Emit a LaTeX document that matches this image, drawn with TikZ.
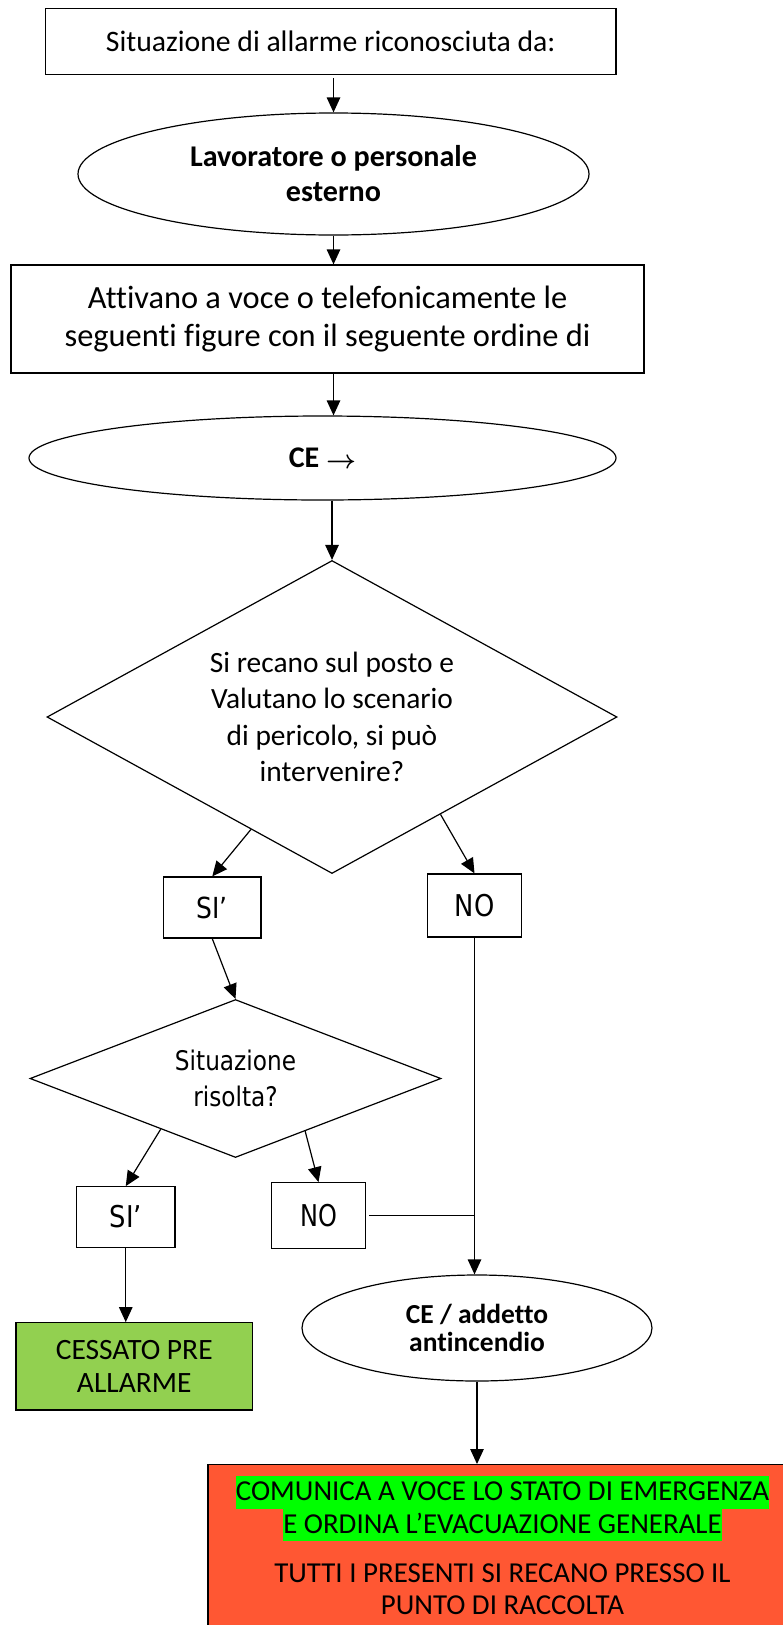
\documentclass[tikz,border=0pt]{standalone}
\usepackage{graphicx}
\usepackage{fontspec}
\setmainfont[Ligatures=NoCommon]{Carlito}
\newfontfamily\dvfont[FakeStretch=0.86]{DejaVu Sans}
\newfontfamily\dvfontn[FakeStretch=0.8]{DejaVu Sans}
\usetikzlibrary{shapes.geometric,arrows.meta,calc}
\definecolor{redfill}{HTML}{FF5733}
\definecolor{greenfill}{HTML}{92D050}
\definecolor{hlgreen}{HTML}{00FF00}
\newcommand{\hlbox}[1]{{\setlength{\fboxsep}{0pt}\colorbox{hlgreen}{\rule[-8pt]{0pt}{32.4pt}#1}}}
\begin{document}
\begin{tikzpicture}[x=1pt,y=-1pt,
  box/.style={draw, line width=1.2pt, rectangle, inner sep=0pt, align=center},
  ell/.style={draw, line width=1.2pt, ellipse, inner sep=0pt, align=center},
  dia/.style={draw, line width=1.2pt, diamond, inner sep=0pt, align=center},
  arr/.style={-{Triangle[length=15pt,width=13.5pt]}, line width=1.2pt},
  ln/.style={line width=1.2pt}]
\useasboundingbox[fill=white] (0,0) rectangle (782,1625);

\node[box, minimum width=570.5pt, minimum height=66pt,
  font=\fontsize{29.7}{36}\selectfont] (top) at (330.75,41.5)
  {Situazione di allarme riconosciuta da:};
\node[ell, minimum width=511pt, minimum height=122pt,
  font=\bfseries\fontsize{30.1}{35}\selectfont] (e1) at (333.5,174)
  {Lavoratore o personale\\esterno};
\node[box, minimum width=633pt, minimum height=108pt,
  font=\fontsize{32.4}{38}\selectfont] (b2) at (327.5,319)
  {Attivano a voce o telefonicamente le\\seguenti figure con il seguente ordine di};
\node[ell, minimum width=587pt, minimum height=84pt,
  font=\bfseries\fontsize{30}{36}\selectfont] (e2) at (322.5,458)
  {CE \raisebox{-1pt}{\resizebox{30pt}{!}{\boldmath$\rightarrow$}}};
\node[dia, aspect=1.82, minimum width=570pt, minimum height=313pt,
  font=\fontsize{29.4}{36.5}\selectfont] (d1) at (332,717)
  {Si recano sul posto e\\Valutano lo scenario\\di pericolo, si può\\intervenire?};
\node[box, minimum width=97.5pt, minimum height=61pt,
  font=\dvfont\fontsize{29}{34}\selectfont] (si1) at (212.25,907.5) {SI’};
\node[box, minimum width=94pt, minimum height=63pt,
  font=\dvfont\fontsize{30}{34}\selectfont] (no1) at (474.5,905.5) {NO};
\node[dia, aspect=2.6, minimum width=411pt, minimum height=158pt,
  font=\dvfont\fontsize{27}{36}\selectfont] (d2) at (235.5,1078.5)
  {Situazione\\risolta?};
\node[box, minimum width=98.5pt, minimum height=60.6pt,
  font=\dvfont\fontsize{30}{34}\selectfont] (si2) at (125.75,1217) {SI’};
\node[box, minimum width=94pt, minimum height=65.6pt,
  font=\dvfontn\fontsize{30}{34}\selectfont] (no2) at (318.5,1215.5) {NO};
\node[ell, minimum width=350pt, minimum height=106pt,
  font=\bfseries\fontsize{27.5}{32.6}\selectfont] (e3) at (477,1328)
  {\raisebox{-4pt}{CE / addetto}\\antincendio};
\node[box, fill=greenfill, minimum width=236.5pt, minimum height=87.3pt,
  font=\fontsize{29.5}{32.3}\selectfont] (green) at (134.25,1366.35)
  {CESSATO PRE\\ALLARME};
\node[box, fill=redfill, minimum width=589pt, minimum height=190pt,
  anchor=north] (red) at (502.5,1464) {};
\node[inner sep=0pt, anchor=north, align=center,
  font=\fontsize{28.9}{32.4}\selectfont] (redtxt) at (502.5,1476)
  {\hlbox{COMUNICA A VOCE LO STATO DI EMERGENZA}\\
   \hlbox{E ORDINA L’EVACUAZIONE GENERALE}\\[17pt]
   TUTTI I PRESENTI SI RECANO PRESSO IL\\
   PUNTO DI RACCOLTA};

% connectors
\draw[arr, shorten <=3pt] (top.south -| e1.north) -- (e1.north);
\draw[arr] (e1.south) -- (e1.south |- b2.north);
\draw[arr] (e1.south |- b2.south) -- (e1.south |- e2.north);
\draw[arr] (d1.north |- e2.south) -- (d1.north);
\draw[arr] ($(d1.west)!0.716!(d1.south)$) -- (si1.north);
\draw[arr] ($(d1.south)!0.38!(d1.east)$) -- (no1.north);
\draw[arr] (si1.south) -- (d2.north);
\draw[arr] ($(d2.west)!0.637!(d2.south)$) -- (si2.north);
\draw[arr] ($(d2.south)!0.338!(d2.east)$) -- (no2.north);
\draw[arr] (no1.south) -- (no1.south |- e3.north);
\draw[ln, shorten <=3pt] (no2.east) -- (no2.east -| no1.south);
\draw[arr] (si2.south) -- (si2.south |- green.north);
\draw[arr] (e3.south) -- (e3.south |- red.north);
\end{tikzpicture}
\end{document}
